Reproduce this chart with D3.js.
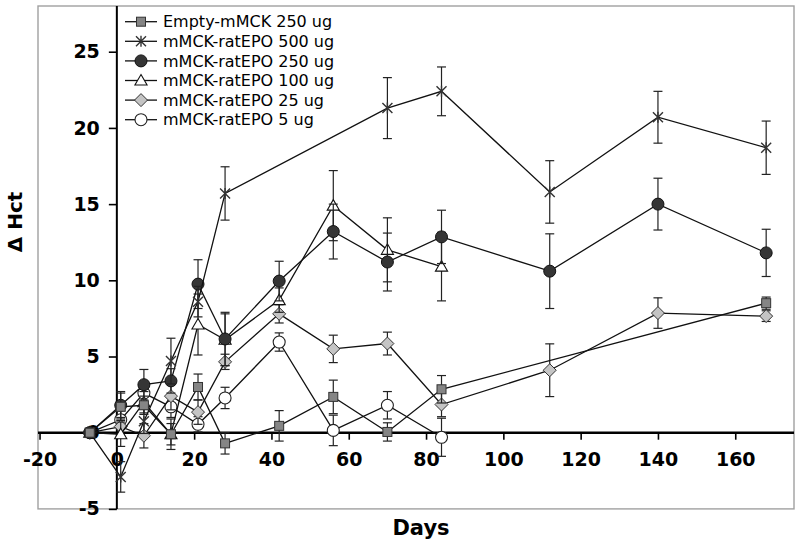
<!DOCTYPE html>
<html>
<head>
<meta charset="utf-8">
<script src="https://cdn.jsdelivr.net/npm/d3@7/dist/d3.min.js"></script>
<style>
  html, body { margin: 0; padding: 0; background: #fff; }
  svg { display: block; }
</style>
</head>
<body>
<svg id="chart" width="800" height="546"></svg>
<script>
// ---- data ----
const seriesNames = ["Empty-mMCK 250 ug", "mMCK-ratEPO 500 ug", "mMCK-ratEPO 250 ug", "mMCK-ratEPO 100 ug", "mMCK-ratEPO 25 ug", "mMCK-ratEPO 5 ug"];

const emptyDays = [-7, 1, 7, 14, 21, 28, 42, 56, 70, 84, 168];
const emptyVals = [0, 1.7, 1.8, -0.1, 3.0, -0.7, 0.45, 2.35, 0.05, 2.85, 8.5];
const emptyErr  = [0, 0.9, 0.6, 1.0, 0.85, 0.7, 1.0, 1.1, 0.6, 0.9, 0.4];

const epo500Days = [-7, 1, 7, 14, 21, 28, 70, 84, 112, 140, 168];
const epo500Vals = [0, -2.9, 0.75, 4.7, 8.6, 15.7, 21.3, 22.4, 15.8, 20.7, 18.7];
const epo500Err  = [0, 1.0, 0.8, 1.5, 1.0, 1.75, 2.0, 1.6, 2.05, 1.7, 1.75];

const epo250Days = [-7, 1, 7, 14, 21, 28, 42, 56, 70, 84, 112, 140, 168];
const epo250Vals = [0, 1.8, 3.15, 3.4, 9.75, 6.15, 9.95, 13.2, 11.2, 12.85, 10.6, 15.0, 11.8];
const epo250Err  = [0, 0.9, 1.0, 0.8, 1.6, 1.75, 1.3, 1.8, 1.9, 1.75, 2.45, 1.7, 1.55];

const epo100Days = [-7, 1, 7, 14, 21, 28, 42, 56, 70, 84];
const epo100Vals = [0, -0.1, 2.0, -0.1, 7.1, 6.1, 8.7, 14.9, 12.0, 10.9];
const epo100Err  = [0, 0.8, 0.7, 0.7, 2.0, 1.7, 0.8, 2.3, 2.1, 2.25];

const epo25Days = [-7, 1, 7, 14, 21, 28, 42, 56, 70, 84, 112, 140, 168];
const epo25Vals = [0, 0.4, -0.2, 2.4, 1.35, 4.65, 7.8, 5.5, 5.85, 1.85, 4.1, 7.85, 7.65];
const epo25Err  = [0, 0.6, 0.8, 0.9, 0.8, 0.5, 0.6, 0.9, 0.75, 0.8, 1.73, 1.0, 0.35];

const epo5Days = [-7, 1, 7, 14, 21, 28, 42, 56, 70, 84];
const epo5Vals = [0, 0.85, 2.6, 1.7, 0.55, 2.28, 5.95, 0.15, 1.8, -0.3];
const epo5Err  = [0, 0.6, 0.6, 0.7, 0.5, 0.7, 0.6, 1.0, 0.9, 1.25];

const xTicks = [-20, 0, 20, 40, 60, 80, 100, 120, 140, 160];
const yTicks = [-5, 0, 5, 10, 15, 20, 25];
const xTitle = "Days";
const yTitle = "Δ Hct";

// ---- build ----
const markerTypes = ["square", "x", "darkcircle", "triangle", "diamond", "whitecircle"];
const seriesData = [
  [emptyDays, emptyVals, emptyErr],
  [epo500Days, epo500Vals, epo500Err],
  [epo250Days, epo250Vals, epo250Err],
  [epo100Days, epo100Vals, epo100Err],
  [epo25Days, epo25Vals, epo25Err],
  [epo5Days, epo5Vals, epo5Err]
].map((s, i) => ({
  name: seriesNames[i],
  marker: markerTypes[i],
  points: s[0].map((d, j) => ({ day: d, val: s[1][j], err: s[2][j] }))
}));

const svg = d3.select("#chart");
const FONT = "'DejaVu Sans', Verdana, sans-serif";
const fmt = d => String(d); // plain hyphen-minus, as in the original

const x = d3.scaleLinear().domain([-20.4, 175.2]).range([38, 794]);
const y = d3.scaleLinear().domain([-5, 28]).range([508.9, 6]);

// frame
svg.append("rect")
  .attr("x", x.range()[0]).attr("y", y.range()[1])
  .attr("width", x.range()[1] - x.range()[0])
  .attr("height", y.range()[0] - y.range()[1])
  .attr("fill", "none").attr("stroke", "#a0a0a0").attr("stroke-width", 1.4);

// y axis
const yAxis = svg.append("g")
  .attr("transform", `translate(${x(0)},0)`)
  .call(d3.axisLeft(y).tickValues(yTicks).tickSize(8).tickPadding(9).tickFormat(fmt));
yAxis.select(".domain").attr("stroke", "#000").attr("stroke-width", 2)
  .attr("d", `M0,${y.range()[1]}V${y(-5)}`);
yAxis.selectAll(".tick line").attr("stroke", "#000").attr("stroke-width", 1.6);
yAxis.selectAll(".tick text").attr("font-family", FONT).attr("font-weight", "bold")
  .attr("font-size", 19).attr("fill", "#000");

// x axis
const xAxis = svg.append("g")
  .attr("transform", `translate(0,${y(0)})`)
  .call(d3.axisBottom(x).tickValues(xTicks).tickSize(7).tickPadding(13).tickFormat(fmt));
xAxis.select(".domain").attr("stroke", "#000").attr("stroke-width", 2.5)
  .attr("d", `M${x.range()[0]},0H${x.range()[1]}`);
xAxis.selectAll(".tick line").attr("stroke", "#000").attr("stroke-width", 1.6);
xAxis.selectAll(".tick text").attr("font-family", FONT).attr("font-weight", "bold")
  .attr("font-size", 19).attr("fill", "#000");

// titles
svg.append("text").attr("x", 421).attr("y", 535).attr("text-anchor", "middle")
  .attr("font-family", FONT).attr("font-weight", "bold").attr("font-size", 21).text(xTitle);
svg.append("text").attr("transform", "translate(22,222) rotate(-90)").attr("text-anchor", "middle")
  .attr("font-family", FONT).attr("font-weight", "bold").attr("font-size", 20).text(yTitle);

// marker drawing
function drawMarker(g, type) {
  switch (type) {
    case "square":
      g.append("rect").attr("x", -4.5).attr("y", -4.5).attr("width", 9).attr("height", 9)
        .attr("fill", "#858585").attr("stroke", "#333").attr("stroke-width", 1);
      break;
    case "x":
      g.append("path").attr("d", "M-5,-5L5,5M-5,5L5,-5M0,-5.5L0,5.5")
        .attr("stroke", "#333").attr("stroke-width", 1.4).attr("fill", "none");
      break;
    case "darkcircle":
      g.append("circle").attr("r", 6).attr("fill", "#353535").attr("stroke", "#111").attr("stroke-width", 1);
      break;
    case "triangle":
      g.append("path").attr("d", d3.symbol().type(d3.symbolTriangle).size(64)())
        .attr("transform", "translate(0,1)")
        .attr("fill", "#fff").attr("stroke", "#111").attr("stroke-width", 1.1);
      break;
    case "diamond":
      g.append("path").attr("d", "M0,-6.5L6.5,0L0,6.5L-6.5,0Z")
        .attr("fill", "#c4c4c4").attr("stroke", "#333").attr("stroke-width", 1);
      break;
    case "whitecircle":
      g.append("circle").attr("r", 6).attr("fill", "#fff").attr("stroke", "#222").attr("stroke-width", 1.1);
      break;
  }
}

const line = d3.line().x(p => x(p.day)).y(p => y(p.val));

// draw series (reverse order so the first-listed ones sit on top)
const drawOrder = [5, 4, 3, 2, 1, 0];
drawOrder.forEach(i => {
  const s = seriesData[i];
  const g = svg.append("g");
  g.append("path").datum(s.points).attr("d", line)
    .attr("fill", "none").attr("stroke", "#111").attr("stroke-width", 1.3);
  const eb = g.selectAll(".eb").data(s.points.filter(p => p.err > 0)).enter().append("g")
    .attr("stroke", "#222").attr("stroke-width", 1.2);
  eb.append("line").attr("x1", p => x(p.day)).attr("x2", p => x(p.day))
    .attr("y1", p => y(p.val + p.err)).attr("y2", p => y(p.val - p.err));
  eb.append("line").attr("x1", p => x(p.day) - 4.5).attr("x2", p => x(p.day) + 4.5)
    .attr("y1", p => y(p.val + p.err)).attr("y2", p => y(p.val + p.err));
  eb.append("line").attr("x1", p => x(p.day) - 4.5).attr("x2", p => x(p.day) + 4.5)
    .attr("y1", p => y(p.val - p.err)).attr("y2", p => y(p.val - p.err));
  g.selectAll(".m").data(s.points).enter().append("g")
    .attr("transform", p => `translate(${x(p.day)},${y(p.val)})`)
    .each(function() { drawMarker(d3.select(this), s.marker); });
});

// legend
const legend = svg.append("g").attr("transform", "translate(125,21.7)");
seriesData.forEach((s, i) => {
  const row = legend.append("g").attr("transform", `translate(0,${i * 19.6})`);
  row.append("line").attr("x1", 0).attr("x2", 32).attr("y1", 0).attr("y2", 0)
    .attr("stroke", "#111").attr("stroke-width", 1.3);
  const m = row.append("g").attr("transform", "translate(16,0)");
  drawMarker(m, s.marker);
  row.append("text").attr("x", 38).attr("y", 0).attr("dy", "0.36em")
    .attr("font-family", FONT).attr("font-size", 16).attr("fill", "#000").text(s.name);
});
</script>
</body>
</html>
